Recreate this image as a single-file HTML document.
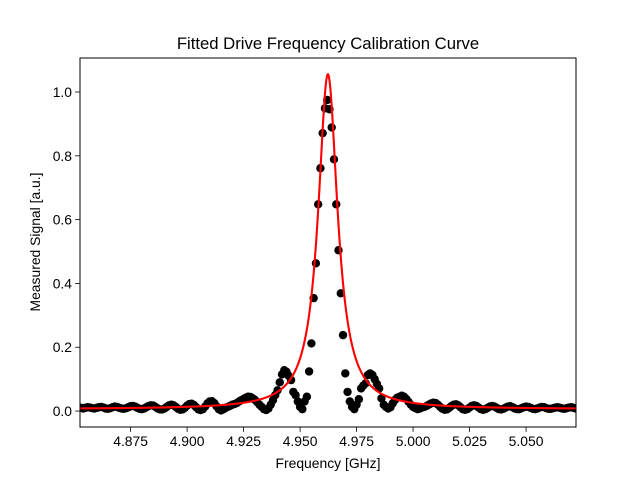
<!DOCTYPE html>
<html><head><meta charset="utf-8"><style>
html,body{margin:0;padding:0;background:#fff;}
svg{display:block;font-family:"Liberation Sans","DejaVu Sans",sans-serif;}
</style></head><body>
<svg id="chart" width="640" height="480" viewBox="0 0 640 480" xmlns="http://www.w3.org/2000/svg">
<rect x="0" y="0" width="640" height="480" fill="#fff"/>
<text x="328" y="49" text-anchor="middle" font-size="16.7" fill="#000">Fitted Drive Frequency Calibration Curve</text>
<defs><clipPath id="plotclip"><rect x="80" y="58" width="496" height="369"/></clipPath></defs>
<g id="xticks"></g>
<g id="yticks"></g>
<g id="plot" clip-path="url(#plotclip)"></g>
<rect x="80" y="58" width="496" height="369" fill="none" stroke="#000" stroke-width="1"/>
<text x="328" y="468" text-anchor="middle" font-size="13.9" fill="#000">Frequency [GHz]</text>
<text transform="translate(40,242) rotate(-90)" text-anchor="middle" font-size="13.9" fill="#000">Measured Signal [a.u.]</text>
</svg>
<script>
const freqStart = 4.852;
const freqStep = 0.001;
const signal = [
0.012,0.010,0.008,0.010,0.012,0.011,0.009,0.008,0.010,0.012,
0.013,0.011,0.008,0.007,0.009,0.012,0.014,0.013,0.010,0.008,
0.007,0.009,0.012,0.015,0.016,0.014,0.010,0.007,0.006,0.008,
0.012,0.016,0.018,0.017,0.013,0.008,0.005,0.005,0.008,0.013,
0.018,0.020,0.018,0.013,0.007,0.004,0.005,0.010,0.017,0.022,
0.023,0.019,0.012,0.005,0.003,0.006,0.014,0.024,0.030,0.031,
0.025,0.015,0.006,0.002,0.005,0.010,
0.013,0.016,0.020,0.022,0.025,0.030,0.034,0.038,0.042,0.045,0.044,0.040,0.035,0.028,0.020,0.013,0.006,0.003,0.008,0.020,0.034,0.050,0.065,0.090,0.115,0.128,0.123,0.110,0.097,0.060,0.050,0.030,0.013,0.006,0.030,0.045,
0.124,0.212,0.354,0.463,0.648,0.761,0.871,0.949,0.975,0.946,0.889,0.789,0.648,0.504,0.369,0.238,0.118,
0.060,0.030,0.013,0.006,0.020,0.037,0.071,0.080,0.087,0.113,0.118,0.113,0.100,0.085,0.071,0.040,0.020,0.013,0.008,0.012,0.024,0.035,0.042,0.045,0.048,0.045,0.038,0.029,0.020,0.013,0.009,0.006,0.008,0.011,0.013,
0.016,0.020,0.024,0.026,0.025,0.020,0.013,0.007,0.004,0.005,
0.010,0.016,0.020,0.021,0.018,0.012,0.006,0.004,0.006,0.011,
0.016,0.018,0.016,0.011,0.006,0.004,0.006,0.010,0.014,0.016,
0.014,0.010,0.006,0.005,0.007,0.011,0.014,0.015,0.012,0.008,
0.006,0.006,0.009,0.012,0.014,0.013,0.010,0.007,0.006,0.008,
0.011,0.013,0.012,0.009,0.007,0.007,0.009,0.011,0.012,0.010,
0.008,0.007,0.009,0.011,0.012,0.010,0.008
];
const fitParams = [1.05, 4.9623, 0.0052, 0.006]; // amplitude, center, half-width, offset
const xTickLabels = ["4.875","4.900","4.925","4.950","4.975","5.000","5.025","5.050"];
const yTickLabels = ["0.0","0.2","0.4","0.6","0.8","1.0"];

const NS = "http://www.w3.org/2000/svg";
const X0 = 80, X1 = 576, Y0 = 427, Y1 = 58;
const xMin = 4.8526, xMax = 5.0721, yMin = -0.050, yMax = 1.1066;
function sx(v){ return X0 + (v - xMin) / (xMax - xMin) * (X1 - X0); }
function sy(v){ return Y0 - (v - yMin) / (yMax - yMin) * (Y0 - Y1); }
function mk(tag, attrs){ const e = document.createElementNS(NS, tag); for (const k in attrs) e.setAttribute(k, attrs[k]); return e; }

const xt = document.getElementById('xticks');
xTickLabels.forEach(function(lab){
  const v = parseFloat(lab), x = sx(v);
  const t = mk('line', {x1:x, x2:x, y1:Y0, y2:Y0+4.9, stroke:'#000', 'stroke-width':0.8});
  
  
  xt.appendChild(t);
  const tx = mk('text', {x:x, y:Y0+19, 'text-anchor':'middle', 'font-size':13.9, fill:'#000'});
  tx.textContent = lab;
  
  
  xt.appendChild(tx);
});
const yt = document.getElementById('yticks');
yTickLabels.forEach(function(lab){
  const v = parseFloat(lab), y = sy(v);
  const t = mk('line', {x1:X0-4.9, x2:X0, y1:y, y2:y, stroke:'#000', 'stroke-width':0.8});
  
  
  yt.appendChild(t);
  const tx = mk('text', {x:X0-8, y:y+5, 'text-anchor':'end', 'font-size':13.9, fill:'#000'});
  tx.textContent = lab;
  
  
  yt.appendChild(tx);
});

const plot = document.getElementById('plot');
const pts = mk('g', {fill:'#000'});


plot.appendChild(pts);
signal.forEach(function(v, i){
  const f = freqStart + i * freqStep;
  const c = mk('circle', {cx:sx(f), cy:sy(v), r:4.2});
  
  
  pts.appendChild(c);
});

let d = '';
const nFit = 600;
for (let k = 0; k <= nFit; k++){
  const f = xMin + (xMax - xMin) * k / nFit;
  const u = (f - fitParams[1]) / fitParams[2];
  const y = fitParams[0] / (1 + u*u) + fitParams[3];
  d += (k ? 'L' : 'M') + sx(f).toFixed(2) + ',' + sy(y).toFixed(2);
}
const fit = mk('path', {d:d, fill:'none', stroke:'#ff0000', 'stroke-width':2.1, 'stroke-linejoin':'round'});


plot.appendChild(fit);
</script>
</body></html>
